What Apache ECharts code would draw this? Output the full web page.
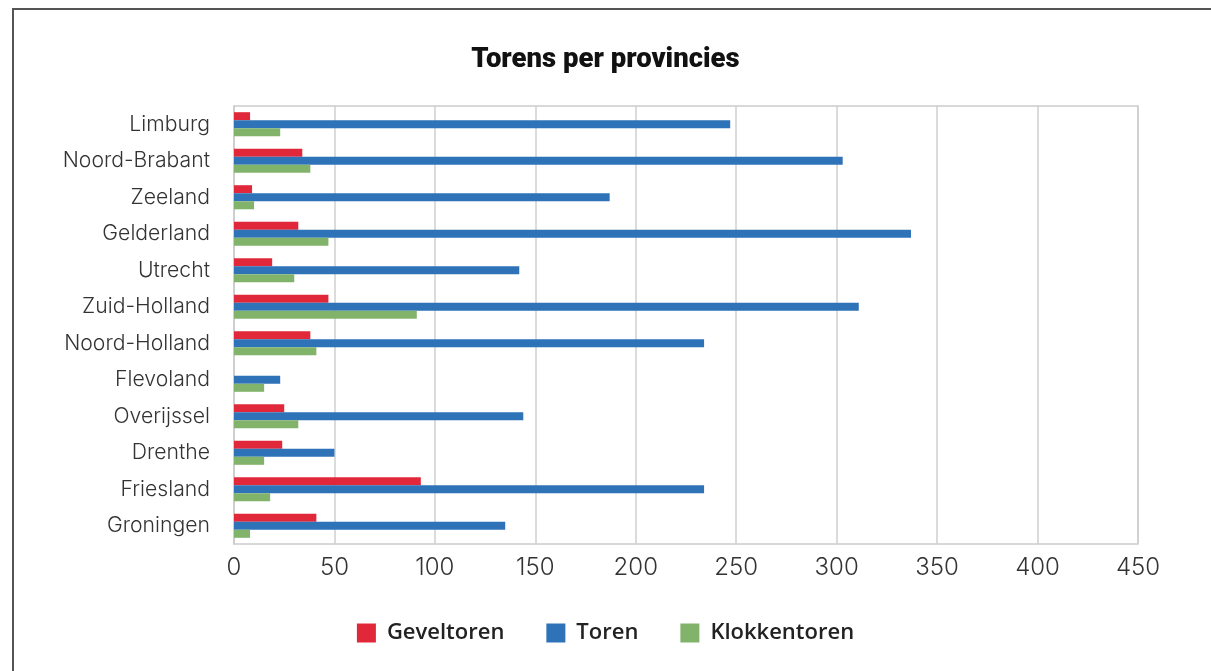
<!DOCTYPE html>
<html><head><meta charset="utf-8">
<script src="https://cdn.jsdelivr.net/npm/echarts@6/dist/echarts.min.js"></script>
<style>
html,body{margin:0;padding:0;background:#fff;}
#frame{position:absolute;left:12px;top:8px;width:1199px;height:663px;border-top:2px solid #555;border-left:2px solid #555;box-sizing:border-box;}
#c{position:absolute;left:0;top:0;width:1211px;height:671px;}
</style></head><body>
<div id="frame"></div>
<div id="c"></div>
<script>
const categories = ['Limburg','Noord-Brabant','Zeeland','Gelderland','Utrecht','Zuid-Holland','Noord-Holland','Flevoland','Overijssel','Drenthe','Friesland','Groningen'];
const geveltoren = [8, 34, 9, 32, 19, 47, 38, 0, 25, 24, 93, 41];
const toren = [247, 303, 187, 337, 142, 311, 234, 23, 144, 50, 234, 135];
const klokkentoren = [23, 38, 10, 47, 30, 91, 41, 15, 32, 15, 18, 8];
const xTicks = [0, 50, 100, 150, 200, 250, 300, 350, 400, 450];

const chart = echarts.init(document.getElementById('c'));
chart.setOption({
  animation: false,
  title: {text: 'Torens per provincies', left: 'center', top: 41,
    textStyle: {fontFamily: 'Roboto', fontWeight: 900, fontSize: 27.5, color: '#111'}},
  legend: {top: 617, left: 'center', itemWidth: 19, itemHeight: 19, itemGap: 42,
    icon: 'rect',
    textStyle: {fontFamily: 'Open Sans', fontSize: 22, fontWeight: 600, color: '#222', padding: [0,0,0,6]},
    data: ['Geveltoren','Toren','Klokkentoren']},
  grid: {left: 234, right: 73, top: 106, bottom: 127, show: true, borderColor: '#cccccc', borderWidth: 1.5},
  xAxis: {type: 'value', min: xTicks[0], max: xTicks[xTicks.length-1], interval: 50,
    axisLine: {show: false}, axisTick: {show: false},
    splitLine: {lineStyle: {color: '#cfcfcf', width: 1.5}},
    axisLabel: {fontFamily: 'Inter', fontSize: 24, fontWeight: 300, color: '#333', margin: 12}},
  yAxis: {type: 'category', data: categories, inverse: true,
    axisLine: {lineStyle: {color: '#cccccc', width: 1.5}}, axisTick: {show: false},
    axisLabel: {fontFamily: 'Inter', fontSize: 21.2, fontWeight: 350, color: '#333', margin: 24}},
  series: [
    {name: 'Geveltoren', type: 'bar', data: geveltoren, itemStyle: {color: '#e0283a'}, barGap: '0%', barCategoryGap: '34%'},
    {name: 'Toren', type: 'bar', data: toren, itemStyle: {color: '#2e72b8'}, barGap: '0%', barCategoryGap: '34%'},
    {name: 'Klokkentoren', type: 'bar', data: klokkentoren, itemStyle: {color: '#82b36b'}, barGap: '0%', barCategoryGap: '34%'}
  ]
});
</script>
</body></html>
